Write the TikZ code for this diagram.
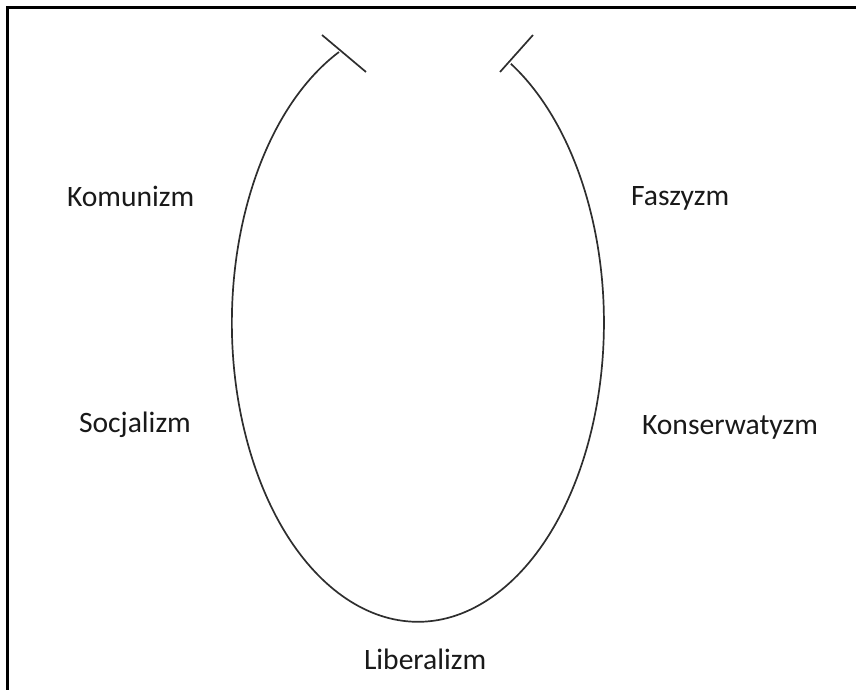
\documentclass[tikz,border=0pt]{standalone}
\usepackage{fontspec}
\setmainfont{Carlito}
\begin{document}
\begin{tikzpicture}[x=1pt,y=1pt,
  lbl/.style={anchor=base west,inner sep=0pt,outer sep=0pt,text=black!90,font=\fontsize{29.6}{31}\selectfont},
  curve/.style={line width=1.7pt,black!82},
  frame/.style={line width=2.6pt,black}]
\useasboundingbox (0,0) rectangle (856,690);
% frame (top and left edges only visible)
\draw[frame] (7.5,0) -- (7.5,682.5) -- (856,682.5);
% curve
\coordinate (L) at (339,638);
\coordinate (R) at (511,627);
\draw[curve] (L) arc[start angle=115.1, end angle=420, x radius=186, y radius=299];
% bars
\coordinate (L1) at (322,655);
\coordinate (L2) at (366,618);
\coordinate (R1) at (533,655);
\coordinate (R2) at (500,618);
\draw[curve] (L1) -- (L2);
\draw[curve] (R1) -- (R2);
% labels
\node[lbl] (kom) at (67,483) {Komunizm};
\node[lbl] (fas) at (631,484) {Faszyzm};
\node[lbl] (soc) at (79,257) {Socjalizm};
\node[lbl] (kon) at (642,255) {Konserwatyzm};
\node[lbl] (lib) at (364,20) {Liberalizm};
\end{tikzpicture}
\end{document}
